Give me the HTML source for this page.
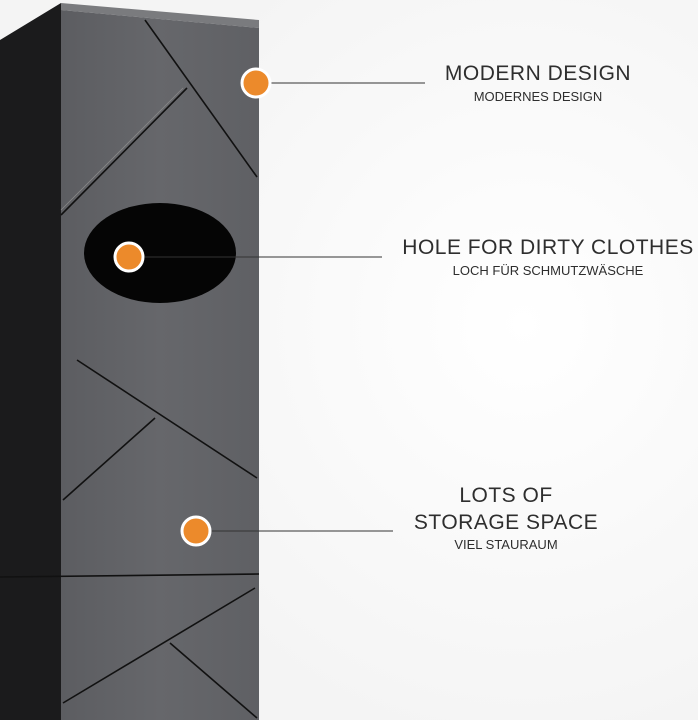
<!DOCTYPE html><html><head><style>
body{margin:0;width:698px;height:720px;overflow:hidden;background:#fff;font-family:"Liberation Sans",sans-serif;position:relative}
.t{position:absolute;color:#2e2e2e;text-align:center;white-space:nowrap;transform:translateX(-50%)}
.b{font-size:21px;letter-spacing:0.5px}
.s{font-size:13px}
</style></head><body>
<svg width="698" height="720" style="position:absolute;left:0;top:0">
<defs><radialGradient id="bg" cx="0.75" cy="0.45" r="0.6"><stop offset="0" stop-color="#fff"/><stop offset="1" stop-color="#f4f4f4"/></radialGradient>
<linearGradient id="fr" x1="0" x2="1"><stop offset="0" stop-color="#5c5d61"/><stop offset="0.5" stop-color="#66676b"/><stop offset="1" stop-color="#5f6064"/></linearGradient></defs>
<rect width="698" height="720" fill="url(#bg)"/>
<polygon points="0,40 61,3 61,720 0,720" fill="#1b1b1c"/>
<polygon points="61,3 259,20 259,28 61,10" fill="#7a7b7e"/>
<polygon points="61,10 259,28 259,720 61,720" fill="url(#fr)"/>
<g stroke="#111" stroke-width="1.6" fill="none">
<line x1="145" y1="20" x2="257" y2="177"/>
<line x1="187" y1="88" x2="61" y2="215"/><line x1="183" y1="88" x2="61" y2="210" stroke="#888" stroke-width="0.8"/>
<line x1="77" y1="360" x2="257" y2="478"/>
<line x1="155" y1="418" x2="63" y2="500"/>
<line x1="0" y1="577" x2="259" y2="574"/>
<line x1="255" y1="588" x2="63" y2="703"/>
<line x1="170" y1="643" x2="257" y2="718"/>
</g>
<ellipse cx="160" cy="253" rx="76" ry="50" fill="#050505"/>
<g stroke="#333" stroke-width="1">
<line x1="270" y1="83" x2="425" y2="83"/>
<line x1="145" y1="257" x2="382" y2="257"/>
<line x1="210" y1="531" x2="393" y2="531"/>
</g>
<g fill="#ec8a2b" stroke="#fff" stroke-width="3">
<circle cx="256" cy="83" r="14"/><circle cx="129" cy="257" r="14"/><circle cx="196" cy="531" r="14"/>
</g>
</svg>
<div class="t b" style="left:538px;top:62px">MODERN DESIGN</div>
<div class="t s" style="left:538px;top:89px">MODERNES DESIGN</div>
<div class="t b" style="left:548px;top:236px">HOLE FOR DIRTY CLOTHES</div>
<div class="t s" style="left:548px;top:263px">LOCH FÜR SCHMUTZWÄSCHE</div>
<div class="t b" style="left:506px;top:484px">LOTS OF</div>
<div class="t b" style="left:506px;top:511px">STORAGE SPACE</div>
<div class="t s" style="left:506px;top:537px">VIEL STAURAUM</div>
</body></html>
